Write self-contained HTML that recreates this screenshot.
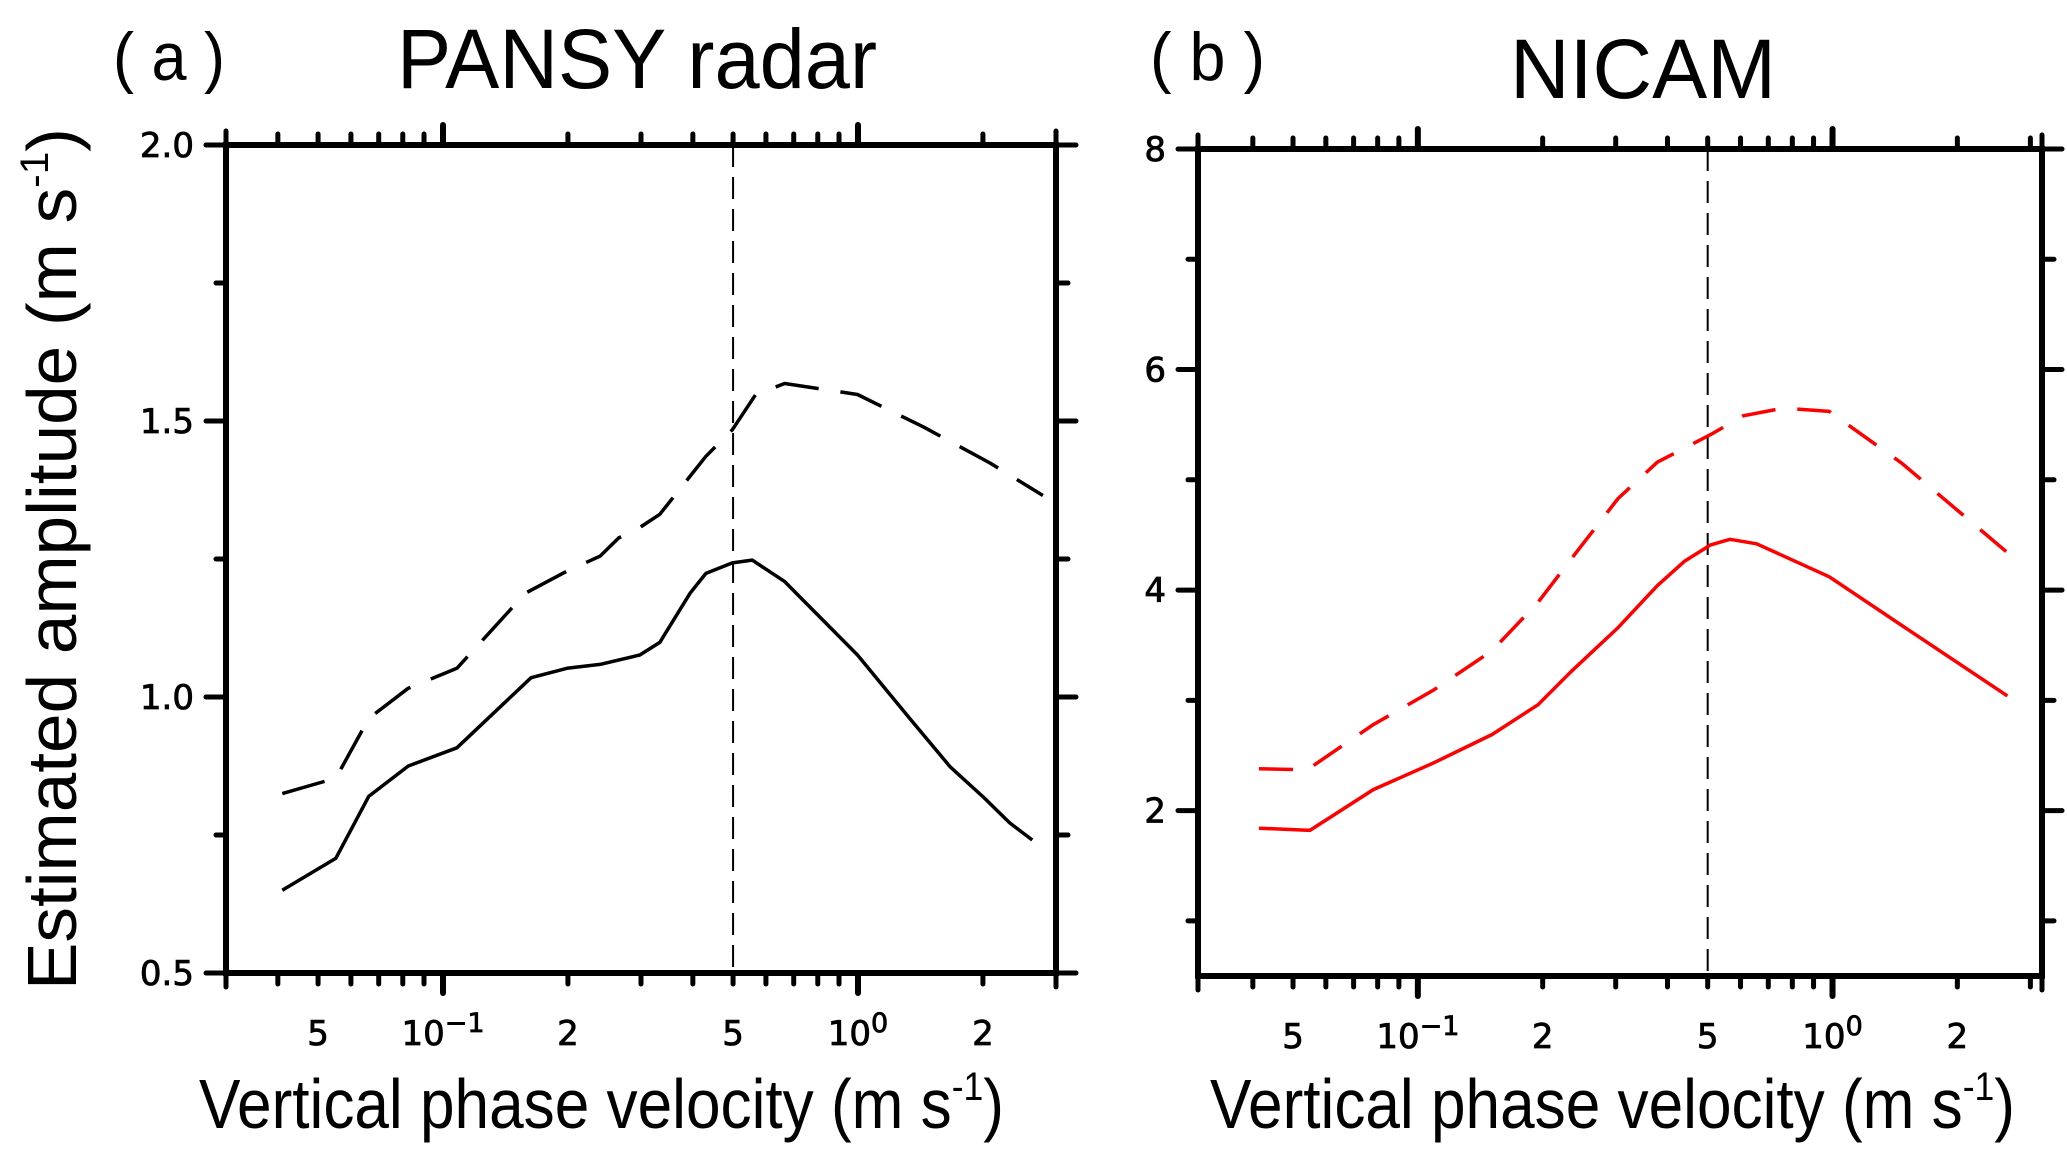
<!DOCTYPE html>
<html><head><meta charset="utf-8"><style>
html,body{margin:0;padding:0;background:#fff;}
svg{display:block;font-family:"Liberation Sans","DejaVu Sans",sans-serif;}
</style></head><body>
<svg id="fig" width="2067" height="1156" viewBox="0 0 2067 1156" xmlns="http://www.w3.org/2000/svg">
<text x="113" y="80" font-size="68" textLength="112" lengthAdjust="spacingAndGlyphs">( a )</text>
<text x="397" y="88" font-size="84" textLength="480" lengthAdjust="spacingAndGlyphs">PANSY radar</text>
<text x="1150" y="80" font-size="68" textLength="115" lengthAdjust="spacingAndGlyphs">( b )</text>
<text x="1510" y="98" font-size="84" textLength="266" lengthAdjust="spacingAndGlyphs">NICAM</text>
<text transform="translate(76,990) rotate(-90)" font-size="70" textLength="862" lengthAdjust="spacingAndGlyphs">Estimated amplitude (m s<tspan font-size="40" dy="-28">-1</tspan><tspan dy="28">)</tspan></text>
<text x="199" y="1128" font-size="70" textLength="805" lengthAdjust="spacingAndGlyphs">Vertical phase velocity (m s<tspan font-size="40" dy="-28">-1</tspan><tspan dy="28">)</tspan></text>
<text x="1210" y="1128" font-size="70" textLength="805" lengthAdjust="spacingAndGlyphs">Vertical phase velocity (m s<tspan font-size="40" dy="-28">-1</tspan><tspan dy="28">)</tspan></text>
<g id="pa"></g>
<g id="pb"></g>
</svg>
<script>
const xTickVals=[0.04,0.05,0.06,0.07,0.08,0.09,0.1,0.2,0.3,0.4,0.5,0.6,0.7,0.8,0.9,1,2,3];
const xTickLabels=[["5",0.05],["10−1",0.1],["2",0.2],["5",0.5],["100",1],["2",2]];
const aX=[0.041,0.0552,0.0662,0.0825,0.108,0.163,0.199,0.239,0.298,0.333,0.394,0.43,0.498,0.556,0.666,0.997,1.34,1.67,2.01,2.32,2.63];
const aSolid=[0.65,0.708,0.82,0.875,0.908,1.035,1.052,1.059,1.076,1.099,1.188,1.224,1.243,1.248,1.209,1.076,0.959,0.873,0.818,0.772,0.741];
const aDX=[0.041,0.0552,0.0662,0.0825,0.108,0.158,0.199,0.239,0.265,0.298,0.333,0.43,0.498,0.567,0.666,0.997,1.44,2.08,2.79];
const aDashed=[0.825,0.853,0.961,1.016,1.052,1.188,1.228,1.255,1.288,1.307,1.331,1.436,1.484,1.548,1.568,1.548,1.489,1.424,1.365];
const aYTicks=[0.5,0.75,1.0,1.25,1.5,1.75,2.0];
const aYLabels=["0.5","1.0","1.5","2.0"];
const bX=[0.0414,0.0549,0.0781,0.1088,0.151,0.195,0.234,0.304,0.378,0.439,0.508,0.566,0.656,0.982,1.58,2.64];
const bSolid=[1.84,1.82,2.19,2.43,2.69,2.96,3.26,3.66,4.04,4.26,4.41,4.46,4.42,4.12,3.6,3.04];
const bDX=[0.0414,0.0541,0.0781,0.1088,0.151,0.195,0.234,0.304,0.378,0.508,0.609,0.762,0.982,1.47,2.64];
const bDashed=[2.38,2.37,2.78,3.09,3.45,3.89,4.28,4.83,5.16,5.41,5.58,5.65,5.62,5.15,4.34];
const bYTicks=[1,2,3,4,5,6,7,8];
const bYLabels=["2","4","6","8"];
const NS="http://www.w3.org/2000/svg";
function mk(p,t,a){const e=document.createElementNS(NS,t);for(const k in a)e.setAttribute(k,a[k]);p.appendChild(e);return e;}
function panel(g,L,R,T,B,xmin,xmax,ymin,ymax,yTicks,yLabels,series,pref){
  const span=Math.log10(xmax)-Math.log10(xmin);
  const xs=v=>L+(Math.log10(v)-Math.log10(xmin))/span*(R-L);
  const ys=v=>B-(v-ymin)/(ymax-ymin)*(B-T);
  xTickVals.forEach(v=>{const maj=(v===0.1||v===1);const len=maj?20:11;
    let t=mk(g,'line',{x1:xs(v),x2:xs(v),y1:T,y2:T-len,stroke:'#000','stroke-width':maj?6:5,'stroke-linecap':'round'});
    
    t=mk(g,'line',{x1:xs(v),x2:xs(v),y1:B,y2:B+len,stroke:'#000','stroke-width':maj?6:5,'stroke-linecap':'round'});
    });
  mk(g,'line',{x1:L,x2:L,y1:B,y2:B+14,stroke:'#000','stroke-width':5,'stroke-linecap':'round'});
  mk(g,'line',{x1:R,x2:R,y1:B,y2:B+14,stroke:'#000','stroke-width':5,'stroke-linecap':'round'});
  mk(g,'line',{x1:L,x2:L,y1:T,y2:T-14,stroke:'#000','stroke-width':5,'stroke-linecap':'round'});
  mk(g,'line',{x1:R,x2:R,y1:T,y2:T-14,stroke:'#000','stroke-width':5,'stroke-linecap':'round'});
  xTickLabels.forEach(([s,v])=>{const t=mk(g,'text',{x:xs(v),y:B+72,'font-size':34,'text-anchor':'middle','font-family':'DejaVu Sans, sans-serif',stroke:'#000','stroke-width':0.8});
    if(s.length>2){t.textContent=s.slice(0,2);const sp=mk(t,'tspan',{dy:-13,'font-size':27});sp.textContent=s.slice(2);}else t.textContent=s;
    });
  yTicks.forEach((v,i)=>{const lab=(i%2===(pref==='a'?0:1));
    let t=mk(g,'line',{x1:L,x2:L-(lab?20:10),y1:ys(v),y2:ys(v),stroke:'#000','stroke-width':5,'stroke-linecap':'round'});
    
    t=mk(g,'line',{x1:R,x2:R+(lab?20:12),y1:ys(v),y2:ys(v),stroke:'#000','stroke-width':5,'stroke-linecap':'round'});
    });
  const lv=pref==='a'?[0.5,1.0,1.5,2.0]:[2,4,6,8];
  lv.forEach((v,i)=>{const t=mk(g,'text',{x:L-32,y:ys(v)+12,'font-size':34,'text-anchor':'end','font-family':'DejaVu Sans, sans-serif',stroke:'#000','stroke-width':0.8});
    t.textContent=yLabels[i];});
  const f=mk(g,'rect',{x:L,y:T,width:R-L,height:B-T,fill:'none',stroke:'#000','stroke-width':6});
  
  const vl=mk(g,'line',{x1:xs(0.5),x2:xs(0.5),y1:T,y2:B,stroke:'#000','stroke-width':2,'stroke-dasharray':'22 10'});
  
  series.forEach(s=>{const p=s.x.map((v,i)=>xs(v).toFixed(1)+','+ys(s.y[i]).toFixed(1)).join(' ');
    const pl=mk(g,'polyline',{points:p,fill:'none',stroke:s.c,'stroke-width':3.5,'stroke-linejoin':'round','stroke-dasharray':s.d||'none'});
    });
}
panel(document.getElementById('pa'),226,1056,145,973,0.03,3.0,0.5,2.0,aYTicks,aYLabels,
 [{x:aX,y:aSolid,c:'#000',n:'series-a-solid'},{x:aDX,y:aDashed,c:'#000',d:'44 22',n:'series-a-dashed'}],'a');
panel(document.getElementById('pb'),1198,2042,149,976,0.0295,3.2,0.5,8,bYTicks,bYLabels,
 [{x:bX,y:bSolid,c:'#f00',n:'series-b-solid'},{x:bDX,y:bDashed,c:'#f00',d:'34 22',n:'series-b-dashed'}],'b');
</script>
</body></html>
